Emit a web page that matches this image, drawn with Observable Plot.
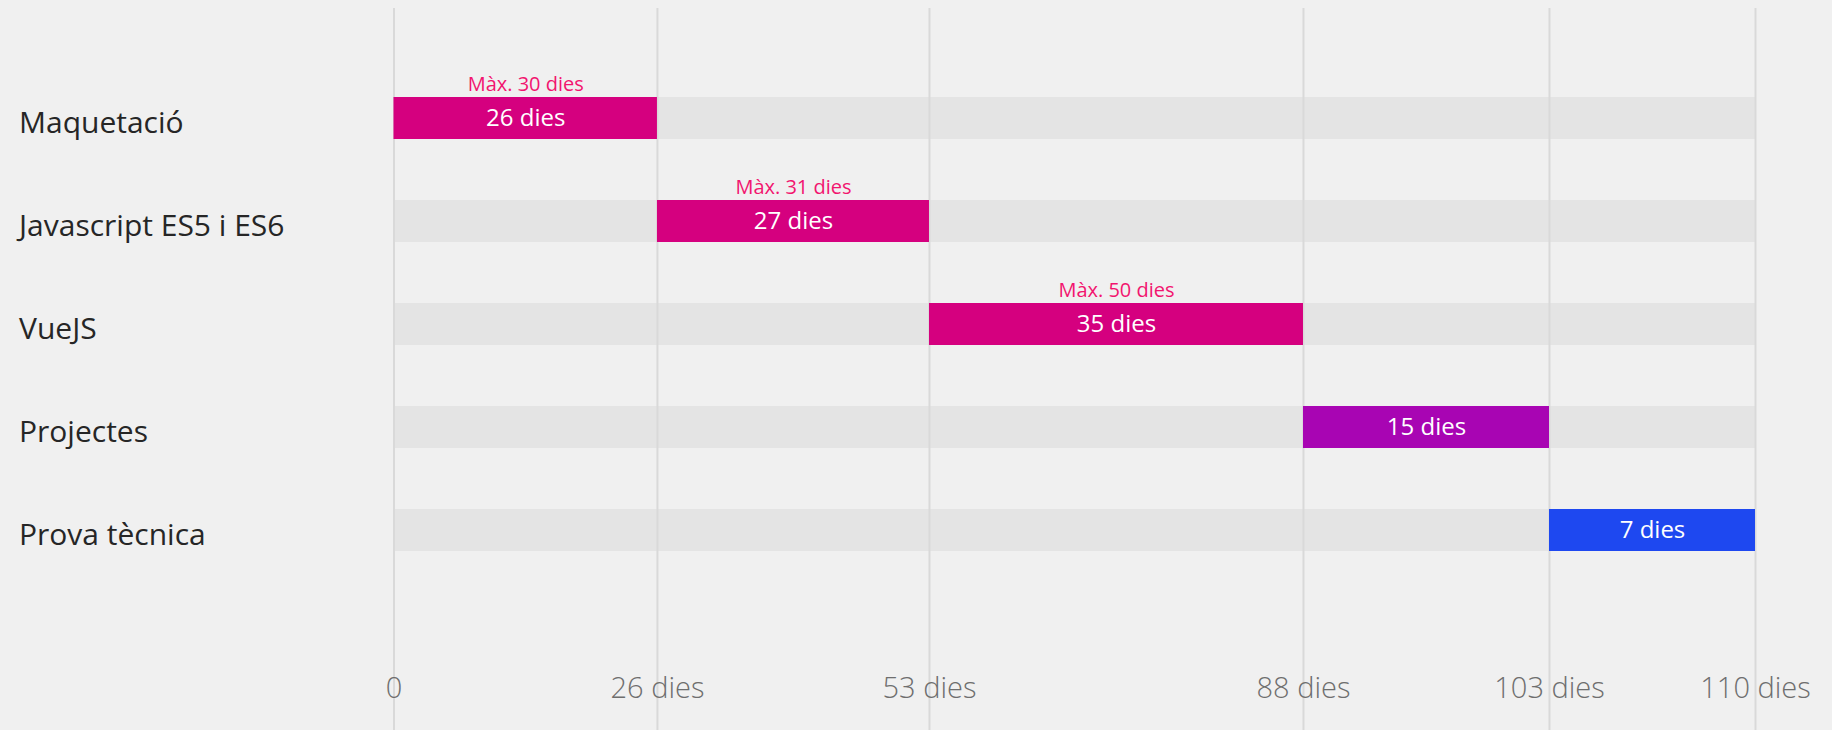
<!DOCTYPE html>
<html>
<head>
<meta charset="utf-8">
<script src="https://cdn.jsdelivr.net/npm/d3@7"></script>
<script src="https://cdn.jsdelivr.net/npm/@observablehq/plot@0.6"></script>
<style>
  html, body { margin: 0; padding: 0; background: #f0f0f0; }
  #chart svg { display: block; }
</style>
</head>
<body>
<div id="chart"></div>
<script>
// ---- Data ----
const phases = ["Maquetació", "Javascript ES5 i ES6", "VueJS", "Projectes", "Prova tècnica"];
const durations = [26, 27, 35, 15, 7];
const maxDays = [30, 31, 50, null, null];
const phaseColors = ["#d5007f", "#d5007f", "#d5007f", "#a805b3", "#1e48f0"];
const tickValues = [0, 26, 53, 88, 103, 110];
const tickLabels = ["0", "26 dies", "53 dies", "88 dies", "103 dies", "110 dies"];

// ---- Derived tables ----
const starts = durations.map((d, i) => d3.sum(durations.slice(0, i)));
const rows = phases.map((p, i) => ({
  phase: p, start: starts[i], end: starts[i] + durations[i],
  days: durations[i], max: maxDays[i], color: phaseColors[i]
}));
const total = d3.sum(durations);
const ticks = tickValues.map((v, i) => ({v, label: tickLabels[i]}));
const mid = d => (d.start + d.end) / 2;

// The original timeline is drawn piecewise: each phase segment has its own width.
const warp = d3.scaleLinear().domain(tickValues).range([0, 0.1935, 0.3933, 0.668, 0.8487, 1]);

const chart = Plot.plot({
  width: 1832,
  height: 730,
  marginTop: 8,
  marginBottom: 0,
  marginLeft: 393.5,
  marginRight: 77,
  style: {background: "#f0f0f0", fontFamily: "'Open Sans', 'Noto Sans', sans-serif"},
  x: {transform: warp, domain: [0, 1], axis: null},
  y: {domain: phases, range: [65.25, 582.75], paddingInner: 0.594, paddingOuter: 0.297, axis: null},
  marks: [
    Plot.barX(rows, {y: "phase", x1: 0, x2: total, fill: "#e4e4e4"}),
    Plot.ruleX(tickValues, {x: d => d, stroke: "#d9d9d9", strokeWidth: 2}),
    Plot.barX(rows, {y: "phase", x1: "start", x2: "end", fill: "color", ariaLabel: "phase-bars"}),
    Plot.text(rows, {x: mid, y: "phase", text: d => `${d.days} dies`, fill: "#ffffff", fontSize: 24, fontWeight: 380}),
    Plot.text(rows.filter(d => d.max != null), {x: mid, y: "phase", text: d => `Màx. ${d.max} dies`, dy: -34, fill: "#f2156f", fontSize: 20, fontWeight: 380}),
    Plot.text(rows, {y: "phase", text: "phase", frameAnchor: "left", dx: -375, textAnchor: "start", fontSize: 30, fill: "#262626", dy: 5, fontWeight: 400}),
    Plot.text(ticks, {x: "v", text: "label", frameAnchor: "bottom", dy: -33, fill: "#6e6e6e", fontSize: 29, fontWeight: 340})
  ]
});

d3.select(chart).selectAll('g[aria-label="phase-bars"]')
  .style("filter", "drop-shadow(0px 5px 4px rgba(0,0,0,0.2))");

document.getElementById("chart").appendChild(chart);
</script>
</body>
</html>
